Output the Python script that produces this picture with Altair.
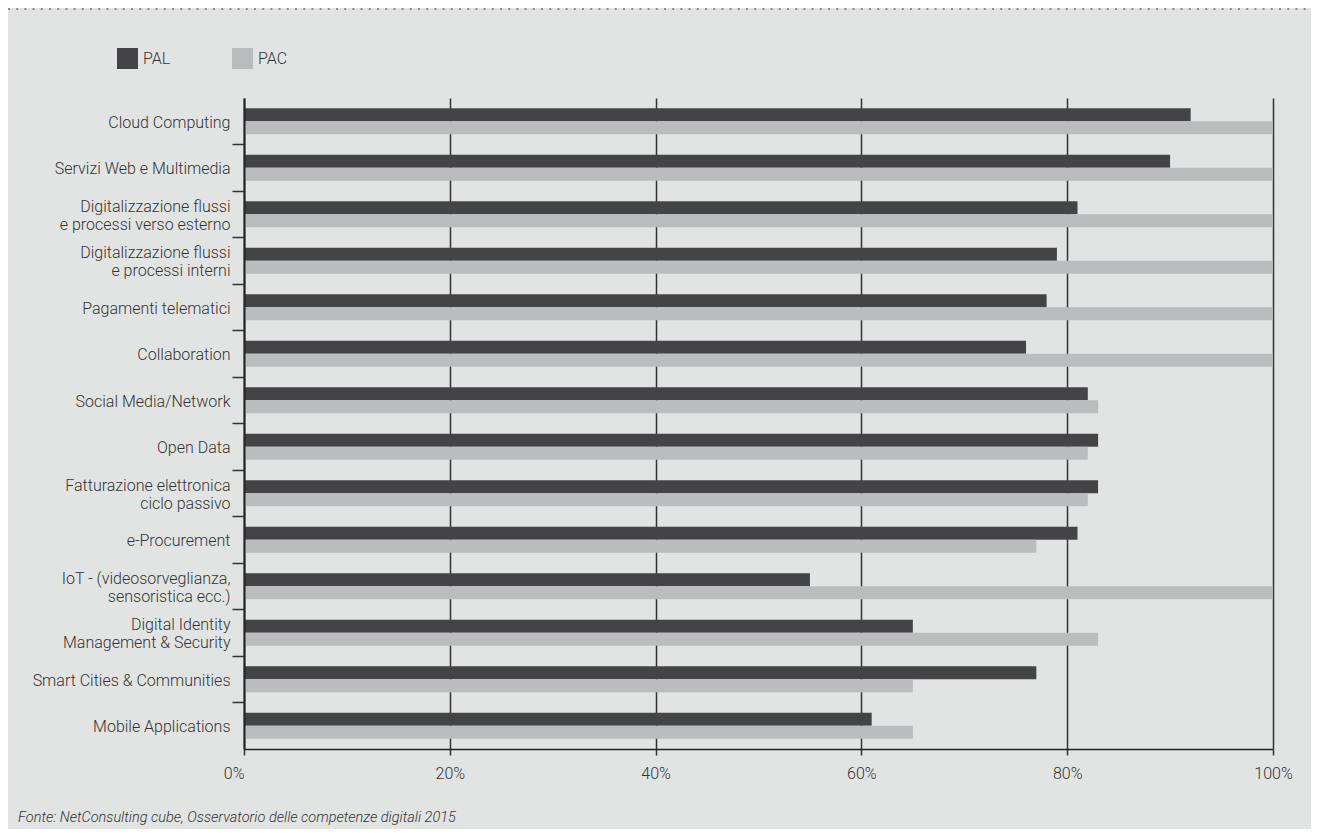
import altair as alt
import pandas as pd

categories = [
    "Cloud Computing",
    "Servizi Web e Multimedia",
    "Digitalizzazione flussi|e processi verso esterno",
    "Digitalizzazione flussi|e processi interni",
    "Pagamenti telematici",
    "Collaboration",
    "Social Media/Network",
    "Open Data",
    "Fatturazione elettronica|ciclo passivo",
    "e-Procurement",
    "IoT - (videosorveglianza,|sensoristica ecc.)",
    "Digital Identity|Management & Security",
    "Smart Cities & Communities",
    "Mobile Applications",
]
pal = [92, 90, 81, 79, 78, 76, 82, 83, 83, 81, 55, 65, 77, 61]
pac = [100, 100, 100, 100, 100, 100, 83, 82, 82, 77, 100, 83, 65, 65]
series = ["PAL", "PAC"]
colors = ["#444446", "#bbbcbd"]
x_ticks = [0, 20, 40, 60, 80, 100]
source_note = ["Fonte: NetConsulting cube, Osservatorio delle competenze digitali 2015"]

rows = []
for c, a, b in zip(categories, pal, pac):
    rows.append({"cat": c, "serie": "PAL", "val": a})
    rows.append({"cat": c, "serie": "PAC", "val": b})
df = pd.DataFrame(rows)

FONT = "Roboto"
TXT = "#333333"
last_cat = categories[-1]

bars = alt.Chart(df).mark_bar().encode(
    y=alt.Y(
        "cat:N",
        sort=categories,
        scale=alt.Scale(paddingInner=0, paddingOuter=0),
        axis=alt.Axis(
            title=None,
            labelExpr="split(datum.label, '|')",
            labelLineHeight=18,
            labelFontSize=16,
            labelFont=FONT,
            labelFontWeight=300,
            labelColor=TXT,
            labelBaseline="middle",
            labelLimit=400,
            labelOffset=alt.expr("indexof(datum.label, '|') >= 0 ? -7.5 : 1.5"),
            bandPosition=1,
            tickExtra=False,
            tickOpacity=alt.expr(f"(datum.extra || datum.value == '{last_cat}') ? 0 : 1"),
            tickSize=12,
            tickColor="#333333",
            tickWidth=1.5,
            domainColor="#222222",
            domainWidth=2,
            labelPadding=2,
            zindex=1,
        ),
    ),
    yOffset=alt.YOffset(
        "serie:N",
        sort=series,
        scale=alt.Scale(paddingInner=0, paddingOuter=0.78),
    ),
    x=alt.X(
        "val:Q",
        scale=alt.Scale(domain=[0, 100], nice=False),
        axis=alt.Axis(
            title=None,
            values=x_ticks,
            labelExpr="datum.value + '%'",
            labelFlush=False,
            labelAlign=alt.expr("datum.value == 0 ? 'right' : 'center'"),
            grid=True,
            gridColor="#333333",
            gridWidth=1.5,
            domainColor="#222222",
            domainWidth=1.5,
            tickColor="#333333",
            tickWidth=1.5,
            tickSize=6,
            labelPadding=10,
            labelFontSize=16,
            labelFont=FONT,
            labelFontWeight=300,
            labelColor=TXT,
        ),
    ),
    color=alt.Color(
        "serie:N",
        sort=series,
        scale=alt.Scale(domain=series, range=colors),
        legend=alt.Legend(
            title=None,
            orient="none",
            legendX=-127,
            legendY=-50,
            direction="horizontal",
            symbolType="square",
            symbolSize=441,
            symbolStrokeWidth=0,
            labelFontSize=16,
            labelFont=FONT,
            labelFontWeight=300,
            labelColor=TXT,
            labelOffset=5,
            columnPadding=61,
        ),
    ),
)

rule = alt.Chart(pd.DataFrame({"k": [0]})).mark_rule(
    strokeDash=[2, 6.2], strokeWidth=2, color="#8c8c8c"
).encode(x=alt.value(-236), x2=alt.value(1067), y=alt.value(-89))

footer = alt.Chart(pd.DataFrame({"t": source_note})).mark_text(
    align="left", baseline="middle", fontStyle="italic", fontSize=14.5,
    font=FONT, fontWeight=300, color=TXT
).encode(x=alt.value(-226), y=alt.value(720), text="t:N")

chart = alt.layer(bars, rule, footer).properties(
    width=1029,
    height=651,
    autosize=alt.AutoSizeParams(type="none"),
    padding={"left": 236, "top": 90, "right": 38, "bottom": 80},
    background="#e2e4e3",
).configure_view(stroke=None)

chart.save("out.html", embed_options={"renderer": "svg", "actions": False})
